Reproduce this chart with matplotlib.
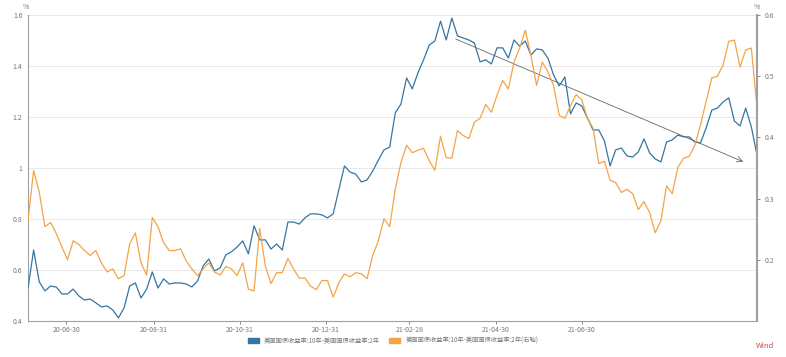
import numpy as np
import pandas as pd
import matplotlib
matplotlib.use('Agg')
import matplotlib.pyplot as plt
from matplotlib.patches import Patch

plt.rcParams['font.family'] = ['Noto Sans CJK SC', 'DejaVu Sans']

# spread series, sampled every 4 days starting 2020-06-03
blue_vals = [
    0.529, 0.678, 0.553, 0.518, 0.537, 0.533, 0.506, 0.506, 0.525, 0.498,
    0.482, 0.486, 0.471, 0.455, 0.459, 0.443, 0.412, 0.451, 0.537, 0.549,
    0.490, 0.525, 0.592, 0.529, 0.565, 0.545, 0.549, 0.549, 0.545, 0.533,
    0.557, 0.616, 0.643, 0.596, 0.608, 0.659, 0.671, 0.690, 0.714, 0.663,
    0.773, 0.718, 0.718, 0.682, 0.702, 0.678, 0.788, 0.788, 0.780, 0.804,
    0.820, 0.820, 0.816, 0.804, 0.820, 0.914, 1.008, 0.984, 0.976, 0.945,
    0.953, 0.988, 1.031, 1.071, 1.082, 1.216, 1.251, 1.353, 1.310, 1.373,
    1.424, 1.482, 1.498, 1.576, 1.502, 1.588, 1.518, 1.510, 1.502, 1.490,
    1.416, 1.424, 1.408, 1.471, 1.471, 1.431, 1.502, 1.478, 1.498, 1.443,
    1.467, 1.463, 1.431, 1.365, 1.322, 1.357, 1.212, 1.255, 1.243, 1.196,
    1.149, 1.149, 1.106, 1.008, 1.071, 1.078, 1.047, 1.043, 1.063, 1.114,
    1.059, 1.035, 1.024, 1.102, 1.110, 1.129, 1.122, 1.122, 1.102, 1.098,
    1.157, 1.227, 1.235, 1.259, 1.275, 1.184, 1.165, 1.235, 1.161, 1.051,
]

# right axis series
orange_vals = [
    0.264, 0.346, 0.310, 0.254, 0.261, 0.243, 0.221, 0.200, 0.231, 0.225,
    0.215, 0.207, 0.215, 0.195, 0.180, 0.185, 0.169, 0.174, 0.226, 0.244,
    0.195, 0.175, 0.269, 0.254, 0.228, 0.215, 0.215, 0.218, 0.198, 0.185,
    0.174, 0.185, 0.195, 0.180, 0.175, 0.189, 0.185, 0.174, 0.195, 0.152,
    0.149, 0.251, 0.190, 0.161, 0.179, 0.179, 0.202, 0.185, 0.170, 0.170,
    0.157, 0.151, 0.166, 0.166, 0.139, 0.162, 0.177, 0.172, 0.179, 0.177,
    0.169, 0.207, 0.231, 0.267, 0.254, 0.316, 0.359, 0.387, 0.375, 0.379,
    0.382, 0.362, 0.346, 0.402, 0.367, 0.366, 0.411, 0.403, 0.398, 0.425,
    0.431, 0.454, 0.441, 0.469, 0.493, 0.479, 0.523, 0.546, 0.575, 0.534,
    0.485, 0.523, 0.507, 0.485, 0.436, 0.431, 0.452, 0.470, 0.461, 0.431,
    0.415, 0.357, 0.361, 0.330, 0.326, 0.310, 0.315, 0.308, 0.282, 0.295,
    0.277, 0.244, 0.264, 0.321, 0.308, 0.351, 0.366, 0.369, 0.387, 0.420,
    0.459, 0.497, 0.500, 0.518, 0.557, 0.559, 0.515, 0.543, 0.546, 0.449,
]

dates = pd.date_range('2020-06-03', periods=len(blue_vals), freq='4D')

tick_dates = pd.to_datetime(['2020-06-30', '2020-08-31', '2020-10-31', '2020-12-31',
                             '2021-02-28', '2021-04-30', '2021-06-30'])
tick_labels = ['20-06-30', '20-08-31', '20-10-31', '20-12-31',
               '21-02-28', '21-04-30', '21-06-30']

left_ticks = [0.4, 0.6, 0.8, 1.0, 1.2, 1.4, 1.6]
left_labels = ['0.4', '0.6', '0.8', '1', '1.2', '1.4', '1.6']
right_ticks = [0.2, 0.3, 0.4, 0.5, 0.6]

label_blue = '美国国债收益率:10年-美国国债收益率:2年'
label_orange = '美国国债收益率:10年-美国国债收益率:2年(右轴)'

# trend arrow drawn on the chart
arrow_start = (pd.Timestamp('2021-03-31'), 1.51)
arrow_end = (pd.Timestamp('2021-10-24'), 1.02)

c_blue = '#3375a3'
c_orange = '#f4a447'
c_axis = '#a0a0a0'
c_text = '#777777'

fig = plt.figure(figsize=(7.86, 3.57), dpi=100)
ax = fig.add_axes([0.0356, 0.101, 0.9275, 0.857])
ax2 = ax.twinx()

ax.plot(dates, blue_vals, color=c_blue, lw=0.9, zorder=3)
ax2.plot(dates, orange_vals, color=c_orange, lw=0.9, zorder=2)

ax.set_xlim(dates[0], dates[-1])
ax.set_ylim(0.4, 1.6)
ax2.set_ylim(0.1, 0.6)

ax.set_yticks(left_ticks)
ax.set_yticklabels(left_labels)
ax2.set_yticks(right_ticks)
ax2.set_yticklabels([f'{v:.1f}' for v in right_ticks])
ax.set_xticks(tick_dates)
ax.set_xticklabels(tick_labels)

ax.grid(axis='y', color='#e8e8e8', lw=0.7)
ax.set_axisbelow(True)

for a in (ax, ax2):
    a.spines['top'].set_visible(False)
    for s in ('left', 'bottom', 'right'):
        a.spines[s].set_color(c_axis)
        a.spines[s].set_linewidth(0.8)
    a.tick_params(labelsize=5, colors=c_text, length=2, width=0.6)
ax.spines['right'].set_visible(False)
ax2.spines['left'].set_visible(False)
ax2.spines['bottom'].set_visible(False)
ax2.spines['right'].set_linewidth(1.5)
ax.tick_params(axis='y', length=0, pad=4)
ax.tick_params(axis='x', pad=2)

ax.annotate('', xy=arrow_end, xytext=arrow_start,
            arrowprops=dict(arrowstyle='->', color='#666666', lw=0.6), zorder=5)

fig.text(0.033, 0.975, '%', fontsize=5, color=c_text, ha='center')
fig.text(0.963, 0.975, '%', fontsize=5, color=c_text, ha='center')
fig.text(0.973, 0.025, 'Wind', fontsize=5.5, color='#c0504d', ha='center')

handles = [Patch(color=c_blue), Patch(color=c_orange)]
fig.legend(handles, [label_blue, label_orange], loc='center', ncol=2,
           bbox_to_anchor=(0.5, 0.045), frameon=False, fontsize=4.5,
           handlelength=1.8, handleheight=0.9, columnspacing=1.5,
           labelcolor=c_text)

fig.savefig('out.png', dpi=100)
